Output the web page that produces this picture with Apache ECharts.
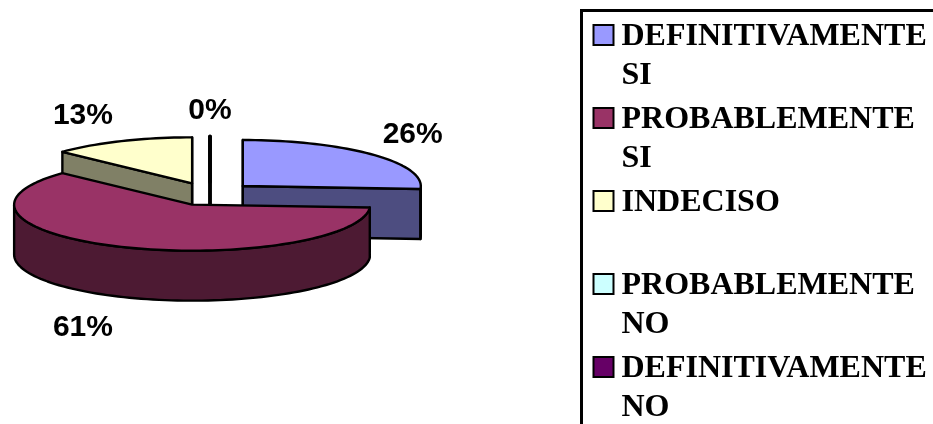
<!DOCTYPE html>
<html>
<head>
<meta charset="utf-8">
<style>html,body{margin:0;padding:0;background:#fff}#chart{width:933px;height:424px}</style>
<script src="https://cdn.jsdelivr.net/npm/echarts@6/dist/echarts.min.js"></script>
</head>
<body>
<div id="chart"></div>
<script>
// Survey answers and their share of responses
const categories = ['DEFINITIVAMENTE SI', 'PROBABLEMENTE SI', 'INDECISO', 'PROBABLEMENTE NO', 'DEFINITIVAMENTE NO'];
const values = [26, 61, 13, 0, 0];
const topColors = ['#9999FF', '#993366', '#FFFFCC', '#CCFFFF', '#660066'];
const sideColors = ['#4D4D80', '#4D1A33', '#808066', '#668080', '#330033'];

// Projected pie geometry
const CX = 210, CY = 194, RX = 178, RY = 46, DEPTH = 50, EXPLODE = 45;
// Radial distances (horizontal, vertical) of each slice's percentage label
const labelReach = [[278, 87], [320, 146], [320, 85], [-1, 83], null];
// Back-to-front paint order of the slices
const paintOrder = [0, 2, 3, 4, 1];

const total = values.reduce((a, b) => a + b, 0);
const spans = [];
values.reduce((acc, v) => {
  const end = acc + v / total * 360;
  spans.push([acc, end]);
  return end;
}, 0);

const rad = d => d * Math.PI / 180;

function buildSlice(i) {
  const [a0, a1] = spans[i];
  const mid = rad((a0 + a1) / 2);
  const ox = CX + Math.sin(mid) * EXPLODE;
  const oy = CY - Math.cos(mid) * EXPLODE * RY / RX;
  const rim = d => [ox + Math.sin(rad(d)) * RX, oy - Math.cos(rad(d)) * RY];
  const down = p => [p[0], p[1] + DEPTH];
  const arc = (from, to) => {
    const n = Math.max(1, Math.ceil((to - from) / 2));
    const pts = [];
    for (let k = 0; k <= n; k++) pts.push(rim(from + (to - from) * k / n));
    return pts;
  };
  // Empty slices collapse to a single spoke, which reads heavier
  const weight = a1 > a0 ? 2.4 : 3;
  const style = fill => ({ fill, stroke: '#000', lineWidth: weight, lineJoin: 'round' });
  const children = [];
  const side = sideColors[i];
  const face = a => {
    const p = rim(a);
    children.push({ type: 'polygon', shape: { points: [[ox, oy], p, down(p), [ox, oy + DEPTH]] }, style: style(side) });
  };
  const facesFront = n => { const m = ((n % 360) + 360) % 360; return m >= 90 && m <= 270; };
  if (facesFront(a0 - 90)) face(a0);
  if (facesFront(a1 + 90)) face(a1);
  const w0 = Math.max(a0, 90), w1 = Math.min(a1, 270);
  if (w1 > w0) {
    const edge = arc(w0, w1);
    children.push({ type: 'polygon', shape: { points: edge.concat(edge.map(down).reverse()) }, style: style(side) });
  }
  children.push({ type: 'polygon', shape: { points: [[ox, oy]].concat(arc(a0, a1)) }, style: style(topColors[i]) });
  const reach = labelReach[i];
  if (reach) {
    children.push({
      type: 'text',
      style: {
        x: CX + Math.sin(mid) * reach[0],
        y: CY - Math.cos(mid) * reach[1],
        text: Math.round(values[i] / total * 100) + '%',
        fill: '#000',
        font: 'bold 30px "Liberation Sans", Arial, sans-serif',
        align: 'center',
        verticalAlign: 'middle'
      }
    });
  }
  return { type: 'group', children };
}

const LEGEND_STEP = 83, LEGEND_TOP = -20, LINE = 39;
const LEGEND_FONT = '"Liberation Serif", "Times New Roman", serif';
const legendText = {
  fontFamily: LEGEND_FONT,
  fontWeight: 'bold',
  fontSize: 32,
  color: '#000',
  padding: [0, 0, 0, 3]
};

const chart = echarts.init(document.getElementById('chart'), null, { renderer: 'canvas' });
chart.setOption({
  animation: false,
  backgroundColor: '#fff',
  graphic: [{
    type: 'rect',
    silent: true,
    shape: { x: 581.5, y: 10.5, width: 400, height: 500 },
    style: { fill: 'none', stroke: '#000', lineWidth: 3 }
  }],
  legend: categories.map((name, i) => ({
    data: [name],
    left: 592.5,
    top: LEGEND_TOP + LEGEND_STEP * i,
    padding: 0,
    icon: 'rect',
    itemWidth: 20,
    itemHeight: 20,
    selectedMode: false,
    itemStyle: { borderColor: '#000', borderWidth: 2 },
    // A blank line above keeps the first line of the name level with the swatch
    formatter: n => {
      const parts = n.split(' ');
      return '{b| }\n{t|' + parts[0] + '}\n{t|' + (parts[1] || ' ') + '}';
    },
    textStyle: {
      color: '#000',
      rich: {
        b: Object.assign({}, legendText, { lineHeight: LINE + 3 }),
        t: Object.assign({}, legendText, { lineHeight: LINE })
      }
    }
  })),
  series: paintOrder.map(i => ({
    type: 'custom',
    name: categories[i],
    coordinateSystem: 'none',
    silent: true,
    itemStyle: { color: topColors[i] },
    data: [[values[i]]],
    renderItem: () => buildSlice(i)
  }))
});
</script>
</body>
</html>
